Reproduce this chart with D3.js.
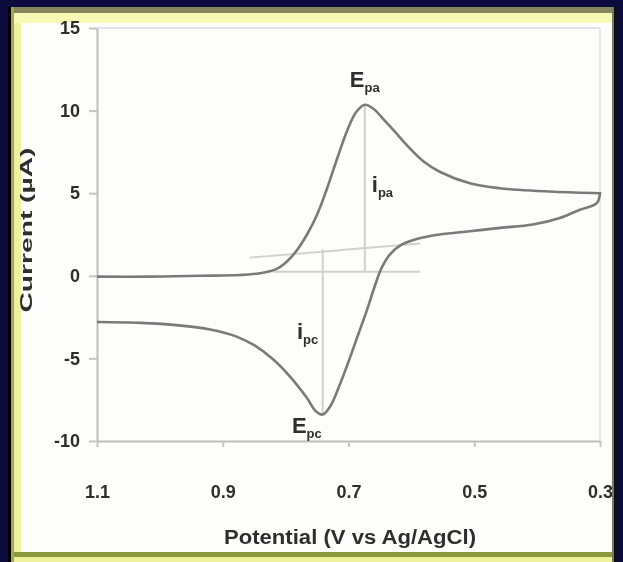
<!DOCTYPE html>
<html>
<head>
<meta charset="utf-8">
<script src="https://cdn.jsdelivr.net/npm/d3@7"></script>
<style>
  body { margin: 0; background: #0c0b3e; }
  svg { display: block; }
</style>
</head>
<body>
<svg id="chart"></svg>
<script>
// forward scan (upper branch), potential in V, current in µA
const upperE = [1.1, 1.016, 0.936, 0.873, 0.841, 0.815, 0.797, 0.782, 0.766, 0.750, 0.734, 0.718, 0.702, 0.688, 0.674, 0.660, 0.645, 0.628, 0.607, 0.580, 0.555, 0.507, 0.459, 0.380, 0.300];
const upperI = [-0.05, -0.05, 0.0, 0.05, 0.15, 0.4, 0.9, 1.55, 2.5, 3.7, 5.3, 7.1, 8.8, 9.9, 10.35, 10.1, 9.5, 8.8, 7.9, 6.9, 6.3, 5.6, 5.3, 5.1, 5.0];
// reverse scan (lower branch)
const lowerE = [0.300, 0.305, 0.332, 0.364, 0.407, 0.459, 0.507, 0.555, 0.590, 0.615, 0.634, 0.647, 0.658, 0.670, 0.685, 0.700, 0.715, 0.729, 0.741, 0.752, 0.766, 0.793, 0.820, 0.850, 0.880, 0.920, 0.970, 1.030, 1.1];
const lowerI = [5.0, 4.4, 4.0, 3.5, 3.1, 2.9, 2.7, 2.5, 2.25, 1.9, 1.3, 0.5, -0.6, -2.0, -3.6, -5.2, -6.7, -7.9, -8.4, -8.2, -7.4, -6.1, -5.05, -4.2, -3.65, -3.25, -3.0, -2.85, -2.8];

const xTicks = [1.1, 0.9, 0.7, 0.5, 0.3];
const yTicks = [-10, -5, 0, 5, 10, 15];

// baselines and peak heights
const guideE1 = [0.857, 0.820, 0.674, 0.741];
const guideI1 = [1.1, 0.25, 10.3, 1.6];
const guideE2 = [0.586, 0.586, 0.674, 0.741];
const guideI2 = [1.95, 0.25, 0.25, -8.4];

const labelMain = ["E", "i", "i", "E"];
const labelSub = ["pa", "pa", "pc", "pc"];
const labelE = [0.698, 0.663, 0.782, 0.790];
const labelI = [11.4, 5.1, -3.8, -9.5];

const width = 623, height = 562;
const svg = d3.select("#chart").attr("width", width).attr("height", height);

// frame
svg.append("rect").attr("width", width).attr("height", height).attr("fill", "#0c0b3e");
svg.append("rect").attr("x", 8).attr("y", 7).attr("width", 3).attr("height", height).attr("fill", "#000");
svg.append("rect").attr("x", 11).attr("y", 7).attr("width", 607).attr("height", 555).attr("fill", "#eef29c");
svg.append("rect").attr("x", 11).attr("y", 7).attr("width", 607).attr("height", 6).attr("fill", "#86865c");
svg.append("rect").attr("x", 11).attr("y", 7).attr("width", 3).attr("height", 555).attr("fill", "#a3a55a");
svg.append("rect").attr("x", 14).attr("y", 13).attr("width", 604).attr("height", 10).attr("fill", "#f6f8b4");
svg.append("rect").attr("x", 21).attr("y", 23).attr("width", 592).attr("height", 529).attr("fill", "#fdfdfb");
svg.append("rect").attr("x", 14).attr("y", 552).attr("width", 604).attr("height", 5).attr("fill", "#8c9a3e");

const defs = svg.append("defs");
defs.append("filter").attr("id", "soft")
  .append("feGaussianBlur").attr("stdDeviation", 0.6);

const g = svg.append("g").attr("filter", "url(#soft)");

const x = d3.scaleLinear().domain([1.1, 0.3]).range([97, 600]);
const y = d3.scaleLinear().domain([-10, 15]).range([441, 28]);

// plot box (faint top and right edges)
g.append("line").attr("x1", x(1.1)).attr("x2", x(0.3)).attr("y1", y(15)).attr("y2", y(15))
  .attr("stroke", "#e4e2ea").attr("stroke-width", 2);
g.append("line").attr("x1", x(0.3)).attr("x2", x(0.3)).attr("y1", y(15)).attr("y2", y(-10))
  .attr("stroke", "#e8e8e8").attr("stroke-width", 2);

// axes
const yAxis = g.append("g").attr("transform", `translate(${x(1.1)},0)`)
  .call(d3.axisLeft(y).tickValues(yTicks).tickFormat(d => String(d)).tickSize(8).tickPadding(9).tickSizeOuter(0));
const xAxis = g.append("g").attr("transform", `translate(0,${y(-10)})`)
  .call(d3.axisBottom(x).tickValues(xTicks).tickFormat(d3.format(".1f")).tickSize(6).tickPadding(38).tickSizeOuter(0));

[yAxis, xAxis].forEach(a => {
  a.select(".domain").attr("stroke", "#bdbdbd").attr("stroke-width", 2);
  a.selectAll(".tick line").attr("stroke", "#c4c4c4").attr("stroke-width", 2);
  a.selectAll(".tick text")
    .attr("fill", "#2e2e2e")
    .style("font-family", "'Liberation Sans', Arial, sans-serif")
    .style("font-weight", "bold")
    .style("font-size", "18px");
});

// guide lines
g.selectAll(".guide")
  .data(guideE1)
  .enter().append("line")
  .attr("class", "guide")
  .attr("x1", (d, i) => x(guideE1[i]))
  .attr("y1", (d, i) => y(guideI1[i]))
  .attr("x2", (d, i) => x(guideE2[i]))
  .attr("y2", (d, i) => y(guideI2[i]))
  .attr("stroke", "#d0d0d0")
  .attr("stroke-width", 2);

// voltammogram
const pts = upperE.map((e, i) => [e, upperI[i]])
  .concat(lowerE.map((e, i) => [e, lowerI[i]]));
const line = d3.line().x(d => x(d[0])).y(d => y(d[1])).curve(d3.curveCatmullRom.alpha(0.5));
g.append("path")
  .attr("d", line(pts))
  .attr("fill", "none")
  .attr("stroke", "#7a7a7a")
  .attr("stroke-width", 2.6);

// peak labels
const lab = g.selectAll(".lab")
  .data(labelMain)
  .enter().append("text")
  .attr("class", "lab")
  .attr("x", (d, i) => x(labelE[i]))
  .attr("y", (d, i) => y(labelI[i]))
  .attr("fill", "#2e2e2e")
  .style("font-family", "'Liberation Sans', Arial, sans-serif")
  .style("font-weight", "bold")
  .style("font-size", "22px");
lab.append("tspan").text(d => d);
lab.append("tspan").attr("dy", 5).style("font-size", "13px").text((d, i) => labelSub[i]);

// axis titles
g.append("text")
  .attr("x", 350).attr("y", 544)
  .attr("text-anchor", "middle")
  .attr("textLength", 252).attr("lengthAdjust", "spacingAndGlyphs")
  .attr("fill", "#2e2e2e")
  .style("font-family", "'Liberation Sans Narrow', 'Liberation Sans', sans-serif")
  .style("font-weight", "bold")
  .style("font-size", "20px")
  .text("Potential (V vs Ag/AgCl)");

g.append("text")
  .attr("transform", "translate(32,230) rotate(-90)")
  .attr("text-anchor", "middle")
  .attr("textLength", 165).attr("lengthAdjust", "spacingAndGlyphs")
  .attr("fill", "#2e2e2e")
  .style("font-family", "'Liberation Sans Narrow', 'Liberation Sans', sans-serif")
  .style("font-weight", "bold")
  .style("font-size", "17px")
  .text("Current (µA)");

// right dark edge of the frame drawn over the last tick label
svg.append("rect").attr("x", 612).attr("y", 7).attr("width", 2).attr("height", 555).attr("fill", "#777");
svg.append("rect").attr("x", 614).attr("y", 7).attr("width", 4).attr("height", 555).attr("fill", "#111");
svg.append("rect").attr("x", 618).attr("y", 7).attr("width", 5).attr("height", 555).attr("fill", "#0c0b3e");
</script>
</body>
</html>
